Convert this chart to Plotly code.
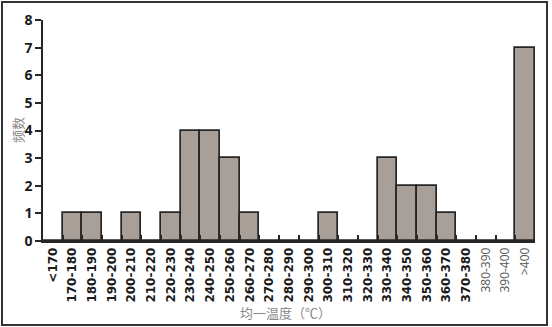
import plotly.graph_objects as go

categories = ["<170", "170-180", "180-190", "190-200", "200-210", "210-220", "220-230",
              "230-240", "240-250", "250-260", "260-270", "270-280", "280-290", "290-300",
              "300-310", "310-320", "320-330", "330-340", "340-350", "350-360", "360-370",
              "370-380", "380-390", "390-400", ">400"]
counts = [0, 1, 1, 0, 1, 0, 1, 4, 4, 3, 1, 0, 0, 0, 1, 0, 0, 3, 2, 2, 1, 0, 0, 0, 7]
plain_labels = ["380-390", "390-400", ">400"]
y_ticks = [0, 1, 2, 3, 4, 5, 6, 7, 8]

W, H = 552, 327
L, R, T, B = 43, 17, 20, 86
pw, ph = W - L - R, H - T - B


def esc(s):
    return s.replace("<", "&lt;").replace(">", "&gt;")


ticktext = [
    ("<span style='color:#555;font-family:Open Sans'>%s</span>" % esc(c)) if c in plain_labels
    else "<b>%s</b>" % esc(c)
    for c in categories
]

fig = go.Figure()
fig.add_trace(go.Bar(
    x=categories, y=counts,
    marker=dict(color="#a89f99", line=dict(color="#262626", width=1.7)),
    hoverinfo="skip",
))


def px_x(x):
    return (x - L) / pw


def px_y(y):
    return (H - B - y) / ph


fig.update_layout(
    width=W, height=H,
    margin=dict(l=L, r=R, t=T, b=B, pad=0),
    plot_bgcolor="white", paper_bgcolor="white",
    bargap=0, showlegend=False,
    font=dict(family="Open Sans, DejaVu Sans, sans-serif", color="#1a1a1a"),
    xaxis=dict(
        type="category", tickmode="array", tickvals=categories, ticktext=ticktext,
        tickson="boundaries", ticks="inside", ticklen=6, tickwidth=1.5, tickcolor="#262626",
        tickangle=-90, tickfont=dict(family="DejaVu Sans", size=12, color="#1a1a1a"),
        showline=True, linecolor="#262626", linewidth=1.5,
        showgrid=False, zeroline=False, range=[-0.5, len(categories) - 0.5],
        automargin=False,
    ),
    yaxis=dict(
        range=[0, 8], tickvals=y_ticks, ticktext=["<b>%d</b>" % v for v in y_ticks],
        ticks="outside", ticklen=6, tickwidth=1.5, tickcolor="#262626",
        tickfont=dict(size=14, color="#1a1a1a"),
        showline=True, linecolor="#262626", linewidth=1.5,
        showgrid=False, zeroline=False, automargin=False,
    ),
)

fig.add_annotation(text="频数", xref="paper", yref="paper",
                   x=px_x(17), y=px_y(130), textangle=-90, showarrow=False,
                   xanchor="center", yanchor="middle",
                   font=dict(family="Noto Sans CJK SC", size=13, color="#8a8a8a"))
fig.add_annotation(text="均一温度（℃）", xref="paper", yref="paper",
                   x=px_x(285), y=px_y(312), showarrow=False,
                   xanchor="center", yanchor="middle",
                   font=dict(family="Noto Sans CJK SC", size=13, color="#8a8a8a"))

frame_js = (
    "document.body.style.margin='0';document.body.style.overflow='hidden';"
    "var o=document.createElement('div');"
    "o.style.cssText='position:fixed;left:1px;top:1px;width:547px;height:325px;"
    "border:2px solid #333;box-sizing:border-box;pointer-events:none;z-index:1000';"
    "document.body.appendChild(o);"
)

fig.write_html("out.html", config={"displayModeBar": False}, post_script=frame_js)
